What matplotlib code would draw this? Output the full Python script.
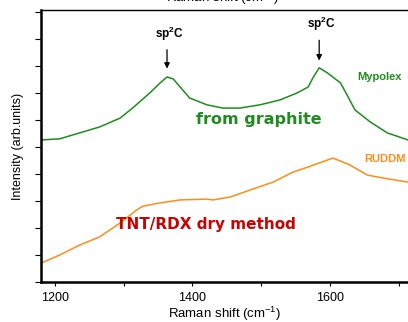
import numpy as np
import matplotlib.pyplot as plt
from matplotlib.ticker import MultipleLocator

plt.rcParams['font.family'] = ['Liberation Sans', 'DejaVu Sans']
plt.rcParams['mathtext.fontset'] = 'custom'
plt.rcParams['mathtext.rm'] = 'Liberation Sans'
plt.rcParams['mathtext.bf'] = 'Liberation Sans:bold'

# spectra (offset, arbitrary units)
mypolex_x = [1180, 1207, 1236, 1265, 1295, 1313, 1338, 1353, 1363, 1372, 1382, 1396,
             1421, 1444, 1469, 1498, 1527, 1552, 1568, 1575, 1584, 1596, 1615, 1625,
             1636, 1658, 1683, 1713]
mypolex_y = [5.26, 5.30, 5.52, 5.74, 6.07, 6.44, 7.00, 7.37, 7.59, 7.52, 7.22, 6.81,
             6.56, 6.44, 6.44, 6.56, 6.74, 7.00, 7.22, 7.56, 7.93, 7.74, 7.37, 6.90,
             6.37, 5.93, 5.52, 5.26]

ruddm_x = [1180, 1207, 1236, 1265, 1295, 1319, 1328, 1353, 1382, 1421, 1430, 1455,
           1484, 1517, 1546, 1568, 1604, 1629, 1654, 1677, 1713]
ruddm_y = [0.70, 1.00, 1.37, 1.67, 2.19, 2.67, 2.81, 2.93, 3.04, 3.07, 3.04, 3.15,
           3.41, 3.70, 4.07, 4.26, 4.59, 4.33, 3.96, 3.85, 3.70]

peak_pos = [1363, 1584]
peak_label = r'sp$^{\mathbf{2}}$C'

fig = plt.figure(figsize=(4.08, 3.22), dpi=100)
ax = fig.add_axes([0.1005, 0.124, 0.8995, 0.845])

ax.plot(mypolex_x, mypolex_y, color='#1e8c1e', lw=1.1)
ax.plot(ruddm_x, ruddm_y, color='#ff8c1a', lw=1.1)

ax.set_xlim(1180, 1713)
ax.set_ylim(0, 10.07)

ax.xaxis.set_major_locator(MultipleLocator(200))
ax.xaxis.set_minor_locator(MultipleLocator(100))
ax.yaxis.set_major_locator(MultipleLocator(1))
ax.set_yticklabels([])
ax.tick_params(axis='x', which='both', direction='out', length=3, width=0.8, labelsize=9, pad=4)
ax.tick_params(axis='y', direction='out', length=4, width=0.8)

ax.spines['right'].set_visible(False)
ax.spines['left'].set_linewidth(1.8)
ax.spines['bottom'].set_linewidth(1.8)
ax.spines['top'].set_linewidth(1.0)

ax.set_xlabel(r'Raman shift (cm$^{\mathregular{-1}}$)', fontsize=9.5, labelpad=1)
ax.set_ylabel('Intensity (arb.units)', fontsize=9, labelpad=5)
# top label of the stacked panel above, cut by the frame
fig.text(0.545, 1.005, r'Raman shift (cm$^{\mathregular{-1}}$)', fontsize=9.5,
         ha='center', va='center')

# peak markers
tip_y = [7.9, 8.2]
lab_y = [8.85, 9.2]
for px, ty, ly in zip(peak_pos, tip_y, lab_y):
    ax.annotate('', xy=(px, ty), xytext=(px, ly - 0.25),
                arrowprops=dict(arrowstyle='-|>', color='black', lw=0.9,
                                mutation_scale=8, shrinkA=0, shrinkB=0))
    ax.text(px + 3, ly, peak_label, fontsize=8.5, fontweight='bold',
            ha='center', va='bottom')

ax.text(1672, 7.6, 'Mypolex', color='#1e8c1e', fontsize=8, fontweight='bold',
        ha='center', va='center')
ax.text(1679, 4.55, 'RUDDM', color='#ff8c1a', fontsize=8, fontweight='bold',
        ha='center', va='center')
ax.text(1496, 6.0, 'from graphite', color='#1e8c1e', fontsize=11.5,
        fontweight='bold', ha='center', va='center', family='DejaVu Sans')
ax.text(1419, 2.12, 'TNT/RDX dry method', color='#cc0000', fontsize=11,
        fontweight='bold', ha='center', va='center', family='DejaVu Sans')

fig.savefig('out.png', dpi=100)
